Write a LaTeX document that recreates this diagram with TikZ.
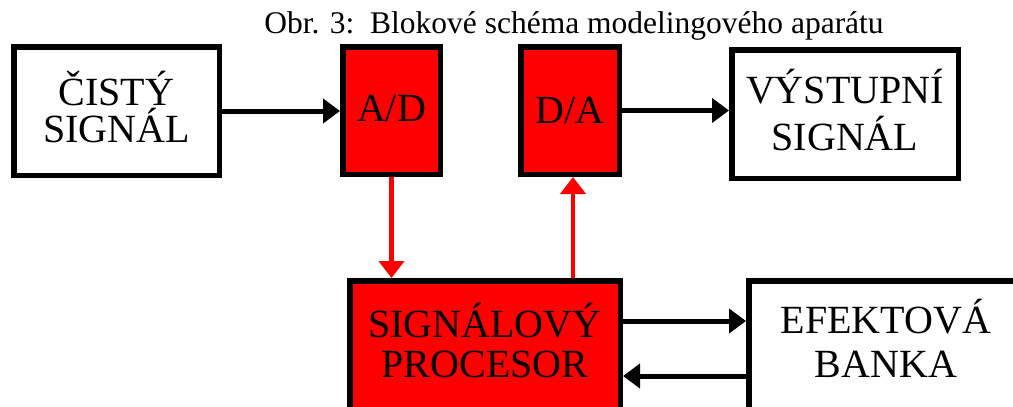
\documentclass[tikz,border=0pt]{standalone}
\usepackage{fontspec}
\setmainfont{Liberation Serif}
\usetikzlibrary{arrows.meta}
\tikzset{
  bkbox/.style={draw=black, fill=white, line width=5.5pt, inner sep=0pt, align=center, text depth=0pt, font=\fontsize{40}{40}\selectfont},
  bkred/.style={bkbox, fill=red},
  bkarrow/.style={line width=5pt, draw=black, -{Triangle[length=17pt,width=24pt]}},
  bkredarrow/.style={line width=4.5pt, draw=red, -{Triangle[length=17pt,width=25pt]}},
  bktitle/.style={font=\fontsize{31.5}{32}\selectfont, anchor=base},
}

\begin{document}
\begin{tikzpicture}[x=1pt,y=-1pt]
\path[use as bounding box, clip] (0,0) rectangle (1013,407);
\node[bktitle] (title) at (574,33) {Obr. 3:\ \ Blokové schéma modelingového aparátu};
\node[bkbox, minimum width=205.5pt, minimum height=128.5pt, text height=62pt] (cisty) at (116.5,111) {ČISTÝ\\[-3pt]SIGNÁL};
\node[bkred, minimum width=97.5pt, minimum height=127.5pt, text height=21pt] (ad) at (391.5,110.5) {A/D};
\node[bkred, minimum width=98.5pt, minimum height=127.5pt, text height=25pt] (da) at (570,110.5) {D/A};
\node[bkbox, minimum width=226.5pt, minimum height=128.5pt, text height=72pt] (vystup) at (845,114) {VÝSTUPNÍ\\[7pt]SIGNÁL};
\node[bkred, minimum width=270.5pt, minimum height=128.5pt, text height=64pt] (proc) at (485,345) {SIGNÁLOVÝ\\PROCESOR};
\node[bkbox, minimum width=274.5pt, minimum height=128.5pt, text height=64pt] (banka) at (886,345) {EFEKTOVÁ\\[4pt]BANKA};
\draw[bkarrow] (cisty) -- (cisty -| ad.west);
\draw[bkarrow] (da) -- (da -| vystup.west);
\draw[bkredarrow] (ad) -- (ad |- proc.north);
\draw[bkredarrow] ([xshift=3pt]proc.north -| da) -- ([xshift=3pt]da.south);
\draw[bkarrow] ([yshift=24pt]proc.east) -- ([yshift=24pt]proc.east -| banka.west);
\draw[bkarrow] ([yshift=-31pt]banka.west) -- ([yshift=-31pt]banka.west -| proc.east);
\end{tikzpicture}
\end{document}
